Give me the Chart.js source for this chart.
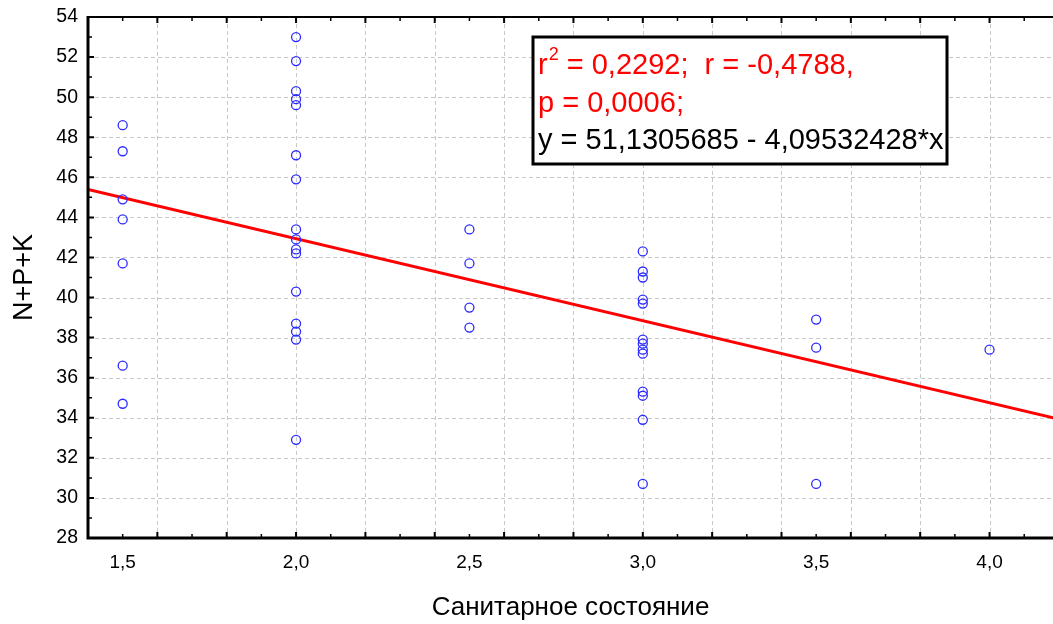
<!DOCTYPE html>
<html>
<head>
<meta charset="utf-8">
<script src="https://cdn.jsdelivr.net/npm/chart.js@4"></script>
<style>
    html, body { margin: 0; padding: 0; background: #fff; overflow: hidden; }
</style>
</head>
<body>
<canvas id="chart" width="1053" height="624"></canvas>
<script>
// ─── Данные ───────────────────────────────────────────────────────────────────

const sanitary = [
    1.5, 1.5, 1.5, 1.5, 1.5, 1.5, 1.5,
    2.0, 2.0, 2.0, 2.0, 2.0, 2.0, 2.0, 2.0, 2.0, 2.0, 2.0, 2.0, 2.0, 2.0, 2.0, 2.0,
    2.5, 2.5, 2.5, 2.5,
    3.0, 3.0, 3.0, 3.0, 3.0, 3.0, 3.0, 3.0, 3.0, 3.0, 3.0, 3.0, 3.0,
    3.5, 3.5, 3.5,
    4.0,
]
const npk = [
    48.6, 47.3, 44.9, 43.9, 41.7, 36.6, 34.7,
    53.0, 51.8, 50.3, 49.9, 49.6, 47.1, 45.9, 43.4, 42.9, 42.4, 42.2, 40.3, 38.7, 38.3, 37.9, 32.9,
    43.4, 41.7, 39.5, 38.5,
    42.3, 41.3, 41.0, 39.9, 39.7, 37.9, 37.7, 37.4, 37.2, 35.3, 35.1, 33.9, 30.7,
    38.9, 37.5, 30.7,
    37.4,
]

// регрессия y = a + b*x
const intercept = 51.1305685
const slope     = -4.09532428
const statLines = [
    { text: ['r', '2', ' = 0,2292;  r = -0,4788,'], color: '#ff0000' },
    { text: ['p = 0,0006;'],                        color: '#ff0000' },
    { text: ['y = 51,1305685 - 4,09532428*x'],      color: '#000000' },
]

// оси
const xMin = 1.4, xMax = 4.183
const yMin = 28,  yMax = 54
const xLabels = [1.5, 2.0, 2.5, 3.0, 3.5, 4.0]
const xGrid   = [1.6, 1.8, 2.0, 2.2, 2.4, 2.6, 2.8, 3.0, 3.2, 3.4, 3.6, 3.8, 4.0]
const xMinor  = [1.5, 1.7, 1.9, 2.1, 2.3, 2.5, 2.7, 2.9, 3.1, 3.3, 3.5, 3.7, 3.9, 4.1]
const yGrid   = [30, 32, 34, 36, 38, 40, 42, 44, 46, 48, 50, 52]
const yMinor  = [29, 31, 33, 35, 37, 39, 41, 43, 45, 47, 49, 51, 53]

const FONT = "'Liberation Sans', Arial, sans-serif"

// ─── Рамка, сетка, засечки и блок статистики ─────────────────────────────────

const framePlugin = {
    id: 'frame',
    beforeDatasetsDraw(chart) {
        const { ctx, chartArea: a, scales: { x, y } } = chart
        ctx.save()
        ctx.strokeStyle = '#c8c8c8'
        ctx.lineWidth = 1
        ctx.setLineDash([4, 3])
        ctx.beginPath()
        xGrid.forEach(v => {
            const px = Math.round(x.getPixelForValue(v)) + 0.5
            ctx.moveTo(px, a.top); ctx.lineTo(px, a.bottom)
        })
        yGrid.forEach(v => {
            const py = Math.round(y.getPixelForValue(v)) + 0.5
            ctx.moveTo(a.left, py); ctx.lineTo(a.right, py)
        })
        ctx.stroke()
        ctx.restore()
    },
    afterDraw(chart) {
        const { ctx, chartArea: a, scales: { x, y } } = chart
        ctx.save()
        ctx.strokeStyle = '#000'

        // засечки внутрь области графика
        ctx.lineWidth = 2
        ctx.beginPath()
        xGrid.forEach(v => {
            const px = x.getPixelForValue(v)
            ctx.moveTo(px, a.bottom); ctx.lineTo(px, a.bottom - 6)
            ctx.moveTo(px, a.top);    ctx.lineTo(px, a.top + 6)
        })
        yGrid.forEach(v => {
            const py = y.getPixelForValue(v)
            ctx.moveTo(a.left, py); ctx.lineTo(a.left + 6, py)
        })
        ctx.stroke()
        ctx.lineWidth = 1.5
        ctx.beginPath()
        xMinor.forEach(v => {
            const px = x.getPixelForValue(v)
            ctx.moveTo(px, a.bottom); ctx.lineTo(px, a.bottom - 4)
            ctx.moveTo(px, a.top);    ctx.lineTo(px, a.top + 4)
        })
        yMinor.forEach(v => {
            const py = y.getPixelForValue(v)
            ctx.moveTo(a.left, py); ctx.lineTo(a.left + 4, py)
        })
        ctx.stroke()

        // оси
        ctx.lineWidth = 2
        ctx.beginPath()
        ctx.moveTo(a.left, a.top); ctx.lineTo(a.right, a.top)
        ctx.stroke()
        ctx.lineWidth = 3
        ctx.beginPath()
        ctx.moveTo(a.left, a.top - 1); ctx.lineTo(a.left, a.bottom); ctx.lineTo(a.right, a.bottom)
        ctx.stroke()

        // блок статистики
        const bx = 533, by = 37, bw = 414, bh = 127
        ctx.fillStyle = '#fff'
        ctx.fillRect(bx, by, bw, bh)
        ctx.lineWidth = 3
        ctx.strokeRect(bx, by, bw, bh)

        ctx.textBaseline = 'alphabetic'
        ctx.textAlign = 'left'
        statLines.forEach((line, i) => {
            const base = 74 + i * 37.5
            let tx = 538
            ctx.fillStyle = line.color
            if (line.text.length === 3) {
                ctx.font = `29px ${FONT}`
                ctx.fillText(line.text[0], tx, base)
                tx += ctx.measureText(line.text[0]).width
                ctx.font = `18px ${FONT}`
                ctx.fillText(line.text[1], tx + 1, base - 14)
                tx += ctx.measureText(line.text[1]).width + 1
                ctx.font = `29px ${FONT}`
                ctx.fillText(line.text[2], tx, base)
            } else {
                ctx.font = `29px ${FONT}`
                ctx.fillText(line.text[0], tx, base)
            }
        })
        ctx.restore()
    }
}

// ─── График ───────────────────────────────────────────────────────────────────

const points = sanitary.map((v, i) => ({ x: v, y: npk[i] }))
const fitLine = [xMin, 4.2].map(v => ({ x: v, y: intercept + slope * v }))

new Chart(document.getElementById('chart'), {
    type: 'scatter',
    data: {
        datasets: [
            {
                data: fitLine,
                showLine: true,
                borderColor: '#ff0000',
                borderWidth: 3,
                pointRadius: 0,
                order: 2,
            },
            {
                data: points,
                pointStyle: 'circle',
                pointRadius: 4.5,
                pointBorderWidth: 1.3,
                pointBorderColor: '#2b2bff',
                pointBackgroundColor: 'rgba(0,0,0,0)',
                order: 1,
            },
        ]
    },
    options: {
        responsive: false,
        animation: false,
        layout: { autoPadding: false, padding: { top: 17, right: 0, left: 0, bottom: 0 } },
        plugins: { legend: { display: false }, tooltip: { enabled: false } },
        scales: {
            x: {
                type: 'linear',
                min: xMin,
                max: xMax,
                grid: { display: false, drawTicks: false },
                border: { display: false },
                afterBuildTicks: s => { s.ticks = xLabels.map(v => ({ value: v })) },
                afterFit: s => {
                    s.height = 86
                    s.paddingLeft = 0
                    s.paddingRight = 0
                },
                ticks: {
                    color: '#000',
                    padding: 13,
                    maxRotation: 0,
                    font: { family: FONT, size: 19 },
                    callback: v => v.toFixed(1).replace('.', ','),
                },
                title: {
                    display: true,
                    text: 'Санитарное состояние',
                    color: '#000',
                    padding: { top: 0, bottom: 1 },
                    font: { family: FONT, size: 26 },
                },
            },
            y: {
                type: 'linear',
                min: yMin,
                max: yMax,
                grid: { display: false, drawTicks: false },
                border: { display: false },
                afterFit: s => {
                    s.width = 88
                    s.paddingTop = 0
                    s.paddingBottom = 0
                },
                ticks: {
                    color: '#000',
                    stepSize: 2,
                    padding: 10,
                    font: { family: FONT, size: 19.5 },
                },
                title: {
                    display: true,
                    text: 'N+P+K',
                    color: '#000',
                    padding: { top: 8, bottom: 0 },
                    font: { family: FONT, size: 27 },
                },
            },
        }
    },
    plugins: [framePlugin]
})
</script>
</body>
</html>
